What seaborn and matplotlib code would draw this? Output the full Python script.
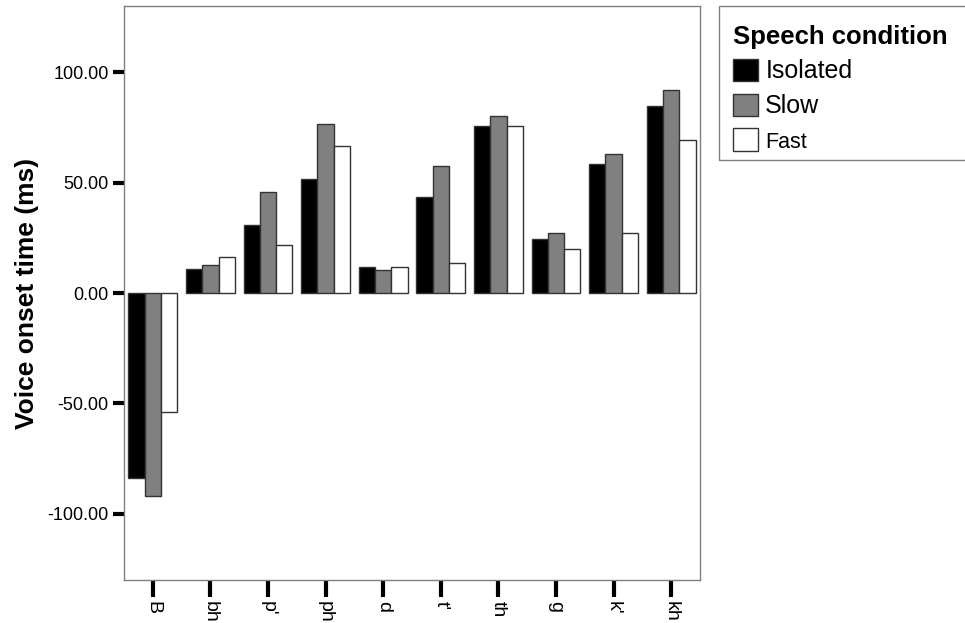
import matplotlib
matplotlib.use("Agg")
import matplotlib.pyplot as plt
from matplotlib.patches import Rectangle
import seaborn as sns
import pandas as pd

consonants = ["B", "bh", "p'", "ph", "d", "t'", "th", "g", "k'", "kh"]
conditions = ["Isolated", "Slow", "Fast"]
isolated = [-83.9, 11.0, 30.9, 51.7, 12.0, 43.5, 75.8, 24.5, 58.6, 84.8]
slow = [-92.0, 12.7, 45.9, 76.7, 10.2, 57.7, 80.2, 27.1, 63.1, 91.9]
fast = [-54.1, 16.4, 21.8, 66.8, 11.9, 13.7, 75.8, 19.8, 27.1, 69.3]
yticks = [-100, -50, 0, 50, 100]

rows = []
for cond, vals in zip(conditions, [isolated, slow, fast]):
    for c, v in zip(consonants, vals):
        rows.append({"consonant": c, "condition": cond, "vot": v})
df = pd.DataFrame(rows)

sns.set_theme(style="white")
plt.rcParams["font.family"] = ["Liberation Sans", "DejaVu Sans"]
plt.rcParams["text.color"] = "black"
plt.rcParams["axes.labelcolor"] = "black"
plt.rcParams["xtick.color"] = "black"
plt.rcParams["ytick.color"] = "black"

fig = plt.figure(figsize=(9.65, 6.23), dpi=100)
ax = fig.add_axes([124 / 965, 1 - 580 / 623, (700 - 124) / 965, (580 - 6) / 623])

sns.barplot(data=df, x="consonant", y="vot", hue="condition", order=consonants,
            hue_order=conditions, palette=["#000000", "#808080", "#ffffff"],
            edgecolor="#333333", linewidth=1, width=0.85, ax=ax, errorbar=None)

ax.set_xlim(-0.5, len(consonants) - 0.5)
ax.set_ylim(-130, 130)
ax.set_yticks(yticks)
ax.set_yticklabels([f"{v:.2f}" for v in yticks], fontsize=13)
ax.set_xticks(range(len(consonants)))
ax.set_xticklabels(consonants, rotation=270, fontsize=14, ha="center", va="top")
ax.set_xlabel("")
ax.set_ylabel("Voice onset time (ms)", fontsize=19, fontweight="bold", labelpad=6)
ax.tick_params(axis="y", direction="out", length=8, width=3, pad=3, left=True)
ax.tick_params(axis="x", direction="out", length=12, width=3, pad=3, bottom=True)
for sp in ax.spines.values():
    sp.set_color("#808080")
    sp.set_linewidth(1)
    sp.set_visible(True)

handles, labels = ax.get_legend_handles_labels()
ax.get_legend().remove()
leg = fig.legend(handles, labels, title="Speech condition", loc="upper left",
                 bbox_to_anchor=(719 / 965, 1 - 11 / 623),
                 borderaxespad=0, fontsize=18, title_fontsize=18.5, frameon=False,
                 alignment="left", handlelength=1.0, handleheight=1.0,
                 labelspacing=0.4, handletextpad=0.3, borderpad=0.55)
leg.get_title().set_fontweight("bold")
leg.get_texts()[2].set_fontsize(15.5)
fig.add_artist(Rectangle((719 / 965, 1 - 160 / 623), 0.3, (160 - 5.5) / 623,
                         transform=fig.transFigure, fill=False,
                         edgecolor="#808080", linewidth=1))

fig.savefig("out.png", dpi=100)
